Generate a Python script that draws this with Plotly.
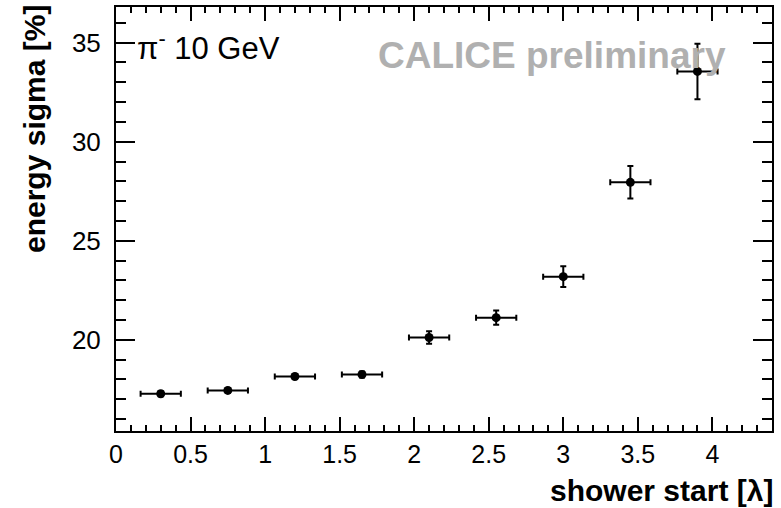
import plotly.graph_objects as go

# Data
shower_start = [0.3, 0.75, 1.2, 1.65, 2.1, 2.55, 3.0, 3.45, 3.9]
energy_sigma = [17.28, 17.45, 18.15, 18.25, 20.12, 21.12, 23.19, 27.95, 33.55]
sigma_err = [0.12, 0.12, 0.13, 0.15, 0.32, 0.36, 0.52, 0.82, 1.4]
start_err = [0.135, 0.135, 0.135, 0.135, 0.135, 0.135, 0.135, 0.135, 0.135]

FONT = "Liberation Sans, Arial, Helvetica, sans-serif"

fig = go.Figure()
fig.add_trace(go.Scatter(
    x=shower_start, y=energy_sigma, mode="markers",
    marker=dict(color="black", size=9, symbol="circle"),
    error_y=dict(type="data", array=sigma_err, color="black", thickness=2, width=3),
    error_x=dict(type="data", array=start_err, color="black", thickness=2, width=3),
    showlegend=False,
))

L, R, T, B = 116, 9, 5, 77
W, H = 781, 508
pw, ph = W - L - R, H - T - B

def px(x):
    return (x - L) / pw

def py(y):
    return (H - B - y) / ph

fig.update_layout(
    width=W, height=H,
    margin=dict(l=L, r=R, t=T, b=B, pad=0),
    paper_bgcolor="white", plot_bgcolor="white",
    font=dict(family=FONT, color="black"),
    xaxis=dict(
        range=[0, 4.4], tick0=0, dtick=0.5, ticks="inside", ticklen=14, tickwidth=2,
        tickcolor="black", showline=True, linecolor="black", linewidth=2,
        mirror="allticks", showgrid=False, zeroline=False,
        tickfont=dict(size=25, family=FONT), ticklabelstandoff=0,
        minor=dict(ticks="inside", ticklen=6, dtick=0.1, tick0=0, tickwidth=2, tickcolor="black", showgrid=False),
    ),
    yaxis=dict(
        range=[15.4, 36.8], tick0=0, dtick=5, ticks="inside", ticklen=19, tickwidth=2,
        tickcolor="black", showline=True, linecolor="black", linewidth=2,
        mirror="allticks", showgrid=False, zeroline=False,
        tickfont=dict(size=26, family=FONT), ticklabelstandoff=8,
        minor=dict(ticks="inside", ticklen=10, dtick=1, tick0=0, tickwidth=2, tickcolor="black", showgrid=False),
    ),
    annotations=[
        dict(text="<b>energy sigma [%]</b>", textangle=-90, xref="paper", yref="paper",
             x=px(34), y=py(1), xanchor="center", yanchor="top", showarrow=False,
             font=dict(size=30, family=FONT, color="black")),
        dict(text="<b>shower start [λ]</b>", xref="paper", yref="paper",
             x=1.005, y=py(491), xanchor="right", yanchor="middle", showarrow=False,
             font=dict(size=30, family=FONT, color="black")),
        dict(text="<b>CALICE preliminary</b>", xref="paper", yref="paper",
             x=px(552), y=py(54), xanchor="center", yanchor="middle", showarrow=False,
             font=dict(size=37, family=FONT, color="#b0b0b0")),
        dict(text="π<sup>-</sup> 10 GeV", xref="paper", yref="paper",
             x=px(135), y=py(44), xanchor="left", yanchor="middle", showarrow=False,
             font=dict(size=31, family=FONT, color="black")),
    ],
)

fig.write_html("out.html")
